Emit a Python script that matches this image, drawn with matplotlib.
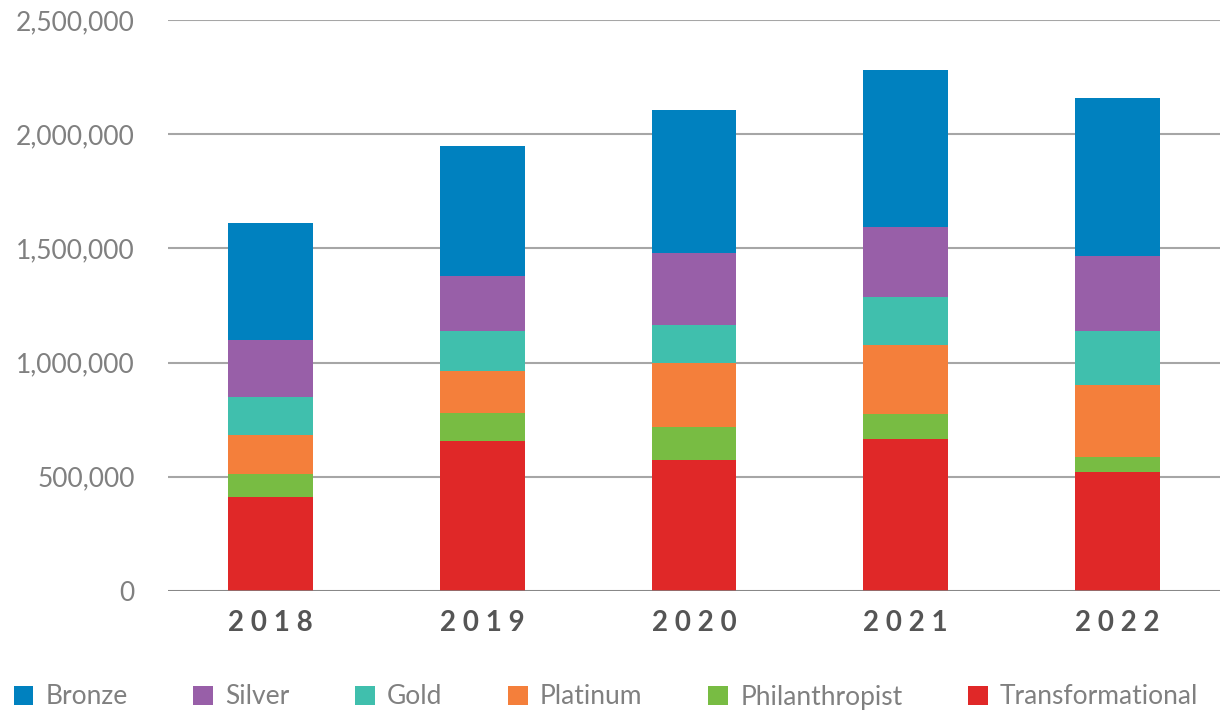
import matplotlib
matplotlib.use('Agg')
import matplotlib.pyplot as plt
import matplotlib.ticker as ticker
import numpy as np

years = ['2018', '2019', '2020', '2021', '2022']

# values in dollars (bottom to top)
transformational = [411000, 657000, 572000, 665000, 522000]
philanthropist = [102000, 122000, 147000, 111000, 64000]
platinum = [169000, 183000, 280000, 301000, 315000]
gold = [167000, 175000, 166000, 210000, 236000]
silver = [250000, 242000, 316000, 305000, 330000]
bronze = [511000, 568000, 624000, 687000, 690000]

series = [
    ('Transformational', transformational, '#e02828'),
    ('Philanthropist', philanthropist, '#78bc43'),
    ('Platinum', platinum, '#f47f3b'),
    ('Gold', gold, '#40bfad'),
    ('Silver', silver, '#985fa8'),
    ('Bronze', bronze, '#0081bf'),
]

label_grey = '#808080'

fig = plt.figure(figsize=(12.32, 7.13), dpi=100)
ax = fig.add_axes([168/1232, 1 - 591/713, (1220 - 168)/1232, (591 - 20)/713])

x = np.arange(len(years))
bottom = np.zeros(len(years))
handles = {}
for name, vals, col in series:
    b = ax.bar(x, vals, width=0.40, bottom=bottom, color=col, zorder=3, label=name)
    handles[name] = b
    bottom += np.array(vals)

ax.set_ylim(0, 2500000)
ax.set_xlim(-0.484, len(years) - 0.516)
ax.set_yticks(np.arange(0, 2500001, 500000))
ax.yaxis.set_major_formatter(ticker.FuncFormatter(lambda v, p: '{:,.0f}'.format(v)))
ax.grid(axis='y', color='#a6a6a6', linewidth=1.5, zorder=0)
ax.axhline(0, color='#7f7f7f', linewidth=1.8, zorder=4)
for s in ax.spines.values():
    s.set_visible(False)
ax.tick_params(axis='both', length=0)
ax.tick_params(axis='y', pad=24)
ax.tick_params(axis='x', pad=14)

for lab in ax.get_yticklabels():
    lab.set_family('Lato')
    lab.set_weight('normal')
    lab.set_fontsize(19)
    lab.set_color(label_grey)

ax.set_xticks(x)
ax.set_xticklabels([' '.join(y) for y in years], family='Lato', weight='bold',
                   fontsize=20, color='#555555')

order = ['Bronze', 'Silver', 'Gold', 'Platinum', 'Philanthropist', 'Transformational']
leg = fig.legend([handles[n] for n in order], order, loc='center left',
                 bbox_to_anchor=(0.011, 1 - 697/713), ncol=6, frameon=False,
                 handlelength=0.75, handleheight=0.75, handletextpad=0.45,
                 columnspacing=2.5, borderaxespad=0, borderpad=0,
                 prop={'family': 'Lato', 'weight': 'normal', 'size': 19})
for t in leg.get_texts():
    t.set_color(label_grey)

fig.savefig('out.png', dpi=100)
